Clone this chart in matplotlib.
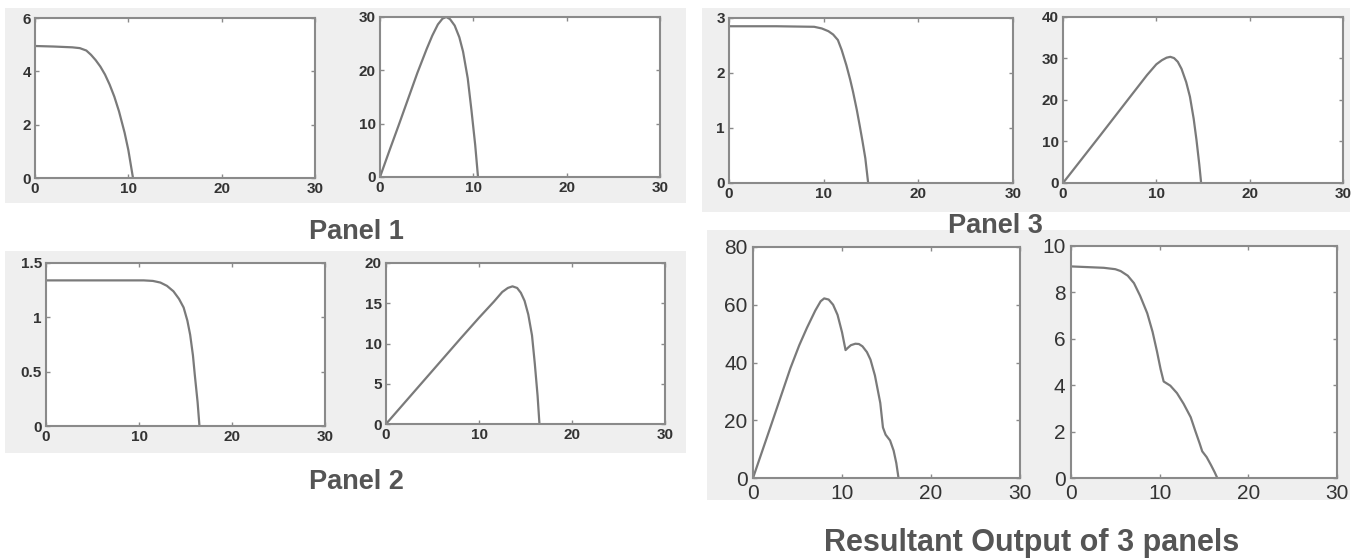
import matplotlib
matplotlib.use("Agg")
import matplotlib.pyplot as plt
from matplotlib.patches import Rectangle

plt.rcParams['font.family'] = ['Liberation Sans', 'DejaVu Sans']

# ---- data ----
p1_iv_v = [0, 2, 4, 4.8, 5.5, 6.0, 6.5, 7.0, 7.5, 8.0, 8.5, 9.0, 9.6, 10.0, 10.5]
p1_iv_i = [4.95, 4.93, 4.9, 4.87, 4.78, 4.62, 4.42, 4.18, 3.88, 3.5, 3.05, 2.5, 1.7, 1.05, 0.0]
p1_pv_v = [0, 1, 2, 3, 4, 5, 5.6, 6.2, 6.7, 7.1, 7.5, 8.0, 8.5, 8.9, 9.4, 9.8, 10.2, 10.5]
p1_pv_p = [0, 4.9, 9.7, 14.6, 19.5, 24.0, 26.5, 28.6, 29.7, 30.0, 29.6, 28.4, 26.2, 23.5, 18.5, 12.5, 6.0, 0]

p2_iv_v = [0, 5, 10.5, 11.5, 12.3, 13.0, 13.7, 14.3, 14.8, 15.2, 15.5, 15.8, 16.0, 16.3, 16.5]
p2_iv_i = [1.34, 1.34, 1.34, 1.335, 1.32, 1.29, 1.24, 1.17, 1.09, 0.97, 0.84, 0.65, 0.47, 0.22, 0.0]
p2_pv_v = [0, 4, 8, 10, 11.6, 12.5, 13.1, 13.6, 14.1, 14.5, 14.9, 15.3, 15.7, 16.0, 16.3, 16.5]
p2_pv_p = [0, 5.3, 10.6, 13.2, 15.2, 16.4, 16.9, 17.1, 16.9, 16.3, 15.3, 13.6, 11.0, 7.5, 3.5, 0]

p3_iv_v = [0, 5, 9.0, 9.8, 10.5, 11.0, 11.5, 11.9, 12.4, 12.8, 13.1, 13.5, 13.8, 14.1, 14.4, 14.7]
p3_iv_i = [2.85, 2.85, 2.84, 2.81, 2.76, 2.70, 2.60, 2.42, 2.14, 1.88, 1.66, 1.33, 1.05, 0.76, 0.45, 0.0]
p3_pv_v = [0, 4, 7.1, 9.0, 10.0, 10.6, 11.1, 11.5, 11.9, 12.3, 12.7, 13.2, 13.6, 14.0, 14.3, 14.6, 14.8]
p3_pv_p = [0, 11.5, 20.5, 26.0, 28.6, 29.6, 30.2, 30.4, 30.1, 29.2, 27.5, 24.3, 20.8, 15.5, 10.4, 4.5, 0]

res_pv_v = [0, 2, 4.2, 5.2, 6.06, 7.0, 7.6, 8.0, 8.5, 9.0, 9.5, 10.0, 10.4, 10.7, 11.0, 11.5, 11.9, 12.3,
            12.8, 13.2, 13.7, 14.3, 14.6, 14.9, 15.4, 15.8, 16.1, 16.35]
res_pv_p = [0, 18, 38, 46, 52, 58, 61.2, 62.2, 61.8, 60.0, 56.5, 50.5, 44.3, 45.2, 46.0, 46.5, 46.4, 45.6,
            43.6, 41.0, 35.5, 26.0, 17.5, 15.0, 13.0, 9.5, 5.2, 0]
res_iv_v = [0, 3.7, 5.0, 5.6, 6.4, 7.1, 7.8, 8.6, 9.2, 9.7, 10.1, 10.45, 11.2, 11.95, 12.7, 13.5, 14.0, 14.5,
            14.8, 15.3, 15.8, 16.2, 16.5]
res_iv_i = [9.12, 9.06, 9.0, 8.92, 8.72, 8.4, 7.85, 7.1, 6.3, 5.45, 4.7, 4.16, 3.98, 3.66, 3.2, 2.62, 2.05, 1.5,
            1.15, 0.9, 0.55, 0.25, 0.0]

x_ticks = [0, 10, 20, 30]
panel_titles = ["Panel 1", "Panel 2", "Panel 3", "Resultant Output of 3 panels"]

W, H = 1359, 560
fig = plt.figure(figsize=(W / 100, H / 100), dpi=100)
fig.patch.set_facecolor('white')

GRAY = '#efefef'
LINE = '#7a7a7a'
SPINE = '#8a8a8a'
TXT = '#333333'


def rect_px(x0, y0, x1, y1):
    return [x0 / W, 1 - y1 / H, (x1 - x0) / W, (y1 - y0) / H]


# gray background blocks
for (x0, y0, x1, y1) in [(5, 8, 686, 203), (5, 251, 686, 453),
                         (702, 8, 1350, 212), (707, 230, 1350, 500)]:
    fig.patches.append(Rectangle((x0 / W, 1 - y1 / H), (x1 - x0) / W, (y1 - y0) / H,
                                 transform=fig.transFigure, facecolor=GRAY,
                                 edgecolor='none', zorder=-10))


def make_ax(box, xs, ys, ymax, yticks, ytlabels, fs, weight, xpad, ypad):
    ax = fig.add_axes(rect_px(*box))
    ax.plot(xs, ys, color=LINE, lw=1.6)
    ax.set_xlim(0, 30)
    ax.set_ylim(0, ymax)
    ax.set_xticks(x_ticks)
    ax.set_yticks(yticks)
    ax.set_yticklabels(ytlabels)
    ax.tick_params(direction='in', top=True, right=True, length=3, width=1,
                   color=SPINE, labelsize=fs, labelcolor=TXT)
    ax.tick_params(axis='x', pad=xpad)
    ax.tick_params(axis='y', pad=ypad)
    for lab in ax.get_xticklabels() + ax.get_yticklabels():
        lab.set_fontweight(weight)
    for s in ax.spines.values():
        s.set_color(SPINE)
        s.set_linewidth(1.5)
    ax.set_facecolor('white')
    return ax


make_ax((35, 18, 315, 178), p1_iv_v, p1_iv_i, 6, [0, 2, 4, 6], ['0', '2', '4', '6'], 11, 'bold', 3, 3)
make_ax((380, 17, 660, 177), p1_pv_v, p1_pv_p, 30, [0, 10, 20, 30], ['0', '10', '20', '30'], 11, 'bold', 3, 3)
make_ax((46, 263, 325, 426), p2_iv_v, p2_iv_i, 1.5, [0, 0.5, 1, 1.5], ['0', '0.5', '1', '1.5'], 11, 'bold', 3, 3)
make_ax((386, 263, 665, 424), p2_pv_v, p2_pv_p, 20, [0, 5, 10, 15, 20], ['0', '5', '10', '15', '20'], 11, 'bold', 3, 3)
make_ax((729, 18, 1013, 183), p3_iv_v, p3_iv_i, 3, [0, 1, 2, 3], ['0', '1', '2', '3'], 11, 'bold', 3, 3)
make_ax((1063, 17, 1343, 183), p3_pv_v, p3_pv_p, 40, [0, 10, 20, 30, 40], ['0', '10', '20', '30', '40'], 11, 'bold', 3, 3)
make_ax((753, 247, 1020, 478), res_pv_v, res_pv_p, 80, [0, 20, 40, 60, 80], ['0', '20', '40', '60', '80'], 15, 'normal', 4, 4)
make_ax((1071, 246, 1337, 478), res_iv_v, res_iv_i, 10, [0, 2, 4, 6, 8, 10], ['0', '2', '4', '6', '8', '10'], 15, 'normal', 4, 4)

# panel labels
label_pos = [(356, 232), (356, 482), (995, 226), (1032, 543)]
label_fs = [19.5, 19.5, 19.5, 22]
for (x, y), t, fs in zip(label_pos, panel_titles, label_fs):
    fig.text(x / W, 1 - y / H, t, ha='center', va='center', fontsize=fs,
             fontweight='bold', color='#555555')

fig.savefig('out.png', dpi=100)
